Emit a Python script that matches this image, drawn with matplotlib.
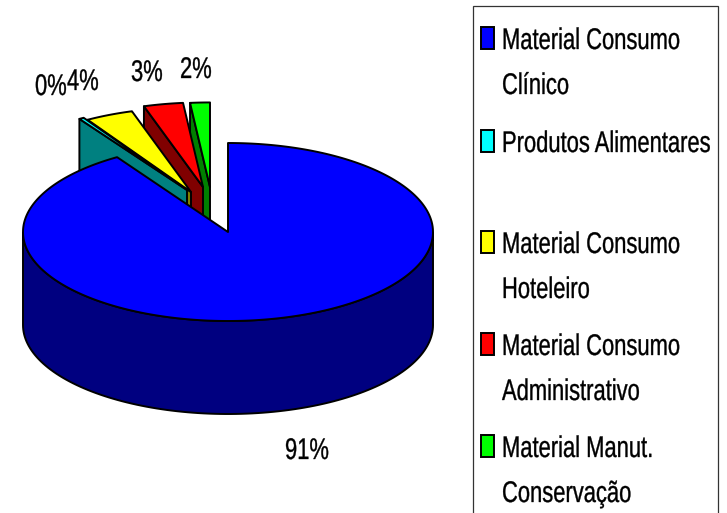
import numpy as np
import matplotlib
matplotlib.use('Agg')
import matplotlib.pyplot as plt
from matplotlib.patches import Polygon, Rectangle
from matplotlib.text import Text
from matplotlib.textpath import TextPath
from matplotlib.transforms import Affine2D

# ----------------------------------------------------------------

categories = ['Material Consumo\nClínico', 'Produtos Alimentares', 'Material Consumo\nHoteleiro',
              'Material Consumo\nAdministrativo', 'Material Manut.\nConservação']
values = [90.9, 0.4, 3.9, 3.2, 1.6]
labels = ['91%', '0%', '4%', '3%', '2%']

top_colors = ['#0000FF', '#00FFFF', '#FFFF00', '#FF0000', '#00FF00']
wall_colors = ['#000080', '#008080', '#808000', '#800000', '#008000']

# explode offset of every slice, in pixels
explode = [(0, 0), (-41, -42), (-37, -40), (-25, -45), (-18, -45)]

cx, cy = 228, 232
rx, ry = 205, 89
depth = 93
lw = 1.4
font_size = 21.5
narrow = 0.735   # no narrow font installed, squeeze by hand

# ----------------------------------------------------------------

plt.rcParams['font.family'] = ['Liberation Sans']


class NarrowText(Text):
    # real text, but squeezed horizontally

    def _path_and_trans(self):
        path = TextPath((0, 0), self.get_text(), size=self.get_fontsize(), prop=self.get_fontproperties())
        k = self.figure.dpi / 72
        x, y = self.get_transform().transform(self.get_position())
        return path, Affine2D().scale(narrow * k, k).translate(x, y)

    def get_window_extent(self, renderer=None, dpi=None):
        path, trans = self._path_and_trans()
        return path.get_extents(trans)

    def draw(self, renderer):
        path, trans = self._path_and_trans()
        gc = renderer.new_gc()
        gc.set_foreground('black')
        gc.set_linewidth(0.25)
        renderer.draw_path(gc, path, trans, (0, 0, 0, 1))
        gc.restore()


def put_text(x, y, txt):
    t = NarrowText(x, y, txt, fontsize=font_size, transform=ax.transData, zorder=20)
    ax.add_artist(t)
    t.set_clip_on(False)


fig = plt.figure(figsize=(7.27, 5.13), dpi=100)
ax = fig.add_axes([0, 0, 1, 1])
ax.set_xlim(0, 727)
ax.set_ylim(513, 0)
ax.axis('off')


def arc(a0, a1, scale_x=1., scale_y=1., n=120):
    t = np.radians(np.linspace(a0, a1, n))
    return np.column_stack([rx * scale_x * np.sin(t), -ry * scale_y * np.cos(t)])


def draw_slice(a0, a1, off, top, wall, z):
    # exploded slices come out a bit smaller in the original
    tip = np.array([cx + off[0], cy + off[1]])
    rim = tip + arc(a0, a1, 0.97, 0.95)
    down = np.array([0, depth])
    left = rim[0]
    face = np.array([left, tip, tip + down, left + down])
    ax.add_patch(Polygon(face, closed=True, fc=wall, ec='black', lw=lw, zorder=z, joinstyle='round'))
    ax.add_patch(Polygon(np.vstack([tip, rim]), closed=True, fc=top, ec='black', lw=lw, zorder=z, joinstyle='round'))


edges = 360 * np.cumsum([0] + values) / sum(values)

# back to front: last slice first, blue one last
for i in range(len(values) - 1, 0, -1):
    draw_slice(edges[i], edges[i + 1], explode[i], top_colors[i], wall_colors[i], 7 - i)

center = np.array([cx, cy])
front = center + arc(90, 270)
wall = np.vstack([front, (front + [0, depth])[::-1]])
ax.add_patch(Polygon(wall, closed=True, fc=wall_colors[0], ec='black', lw=lw, zorder=10))
ax.add_patch(Polygon(np.vstack([center, center + arc(edges[0], edges[1], n=300)]), closed=True,
                     fc=top_colors[0], ec='black', lw=lw, zorder=11, joinstyle='round'))

# data labels, left end and baseline
label_pos = [(285, 459), (35, 95), (67, 90), (131, 81), (180, 78)]
for txt, (x, y) in zip(labels, label_pos):
    put_text(x, y, txt)

# legend
ax.add_patch(Rectangle((472.5, 5.5), 245.5, 530, fc='white', ec='#333333', lw=0.9, zorder=1))
legend_y = [49, 152, 253, 355, 457]
line_gap = 45
for name, color, y in zip(categories, top_colors, legend_y):
    ax.add_patch(Rectangle((481, y - 22), 13, 22, fc=color, ec='black', lw=lw, zorder=12))
    for k, line in enumerate(name.split('\n')):
        put_text(502, y + k * line_gap, line)

fig.savefig('out.png', dpi=100)
